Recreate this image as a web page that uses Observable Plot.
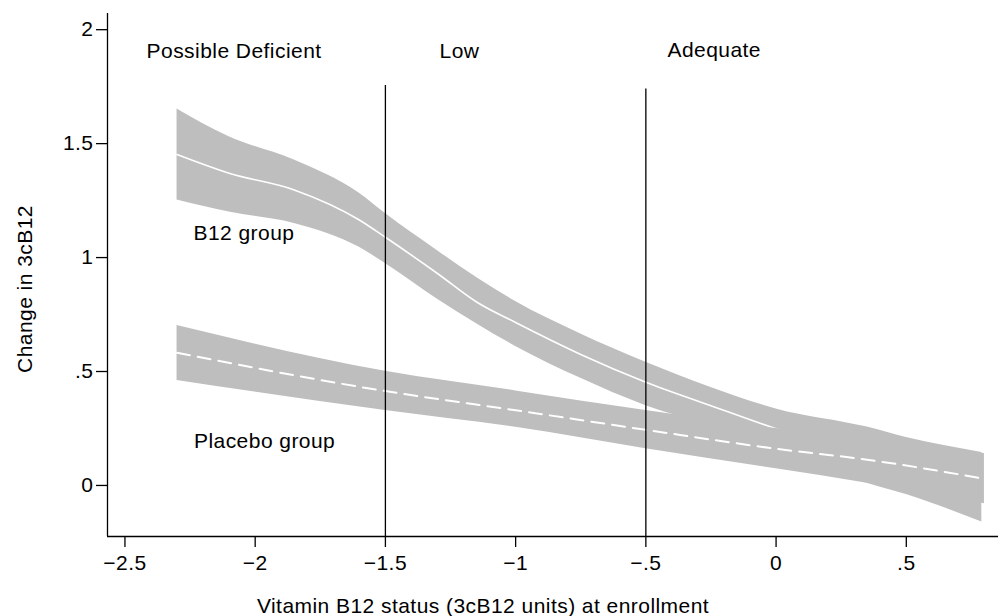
<!DOCTYPE html>
<html>
<head>
<meta charset="utf-8">
<script src="https://cdn.jsdelivr.net/npm/d3@7"></script>
<script src="https://cdn.jsdelivr.net/npm/@observablehq/plot@0.6"></script>
<style>
  html, body { margin: 0; padding: 0; background: #ffffff; }
  #chart { width: 1003px; height: 616px; }
</style>
</head>
<body>
<div id="chart"></div>
<script>
// ---- data ----
const xTicks = [-2.5, -2, -1.5, -1, -0.5, 0, 0.5];
const xTickLabels = ["−2.5", "−2", "−1.5", "−1", "−.5", "0", ".5"];
const yTicks = [0, 0.5, 1, 1.5, 2];
const yTickLabels = ["0", ".5", "1", "1.5", "2"];
const xDomain = [-2.567, 0.854];
const yDomain = [-0.224, 2.071];

// B12 group: fitted change and confidence band
const b12X     = [-2.3, -2.1, -1.85, -1.6, -1.5, -1.3, -1.15, -1.0, -0.75, -0.5, -0.25, 0, 0.35, 0.5, 0.79];
const b12Fit   = [1.452, 1.37, 1.297, 1.165, 1.089, 0.93, 0.805, 0.715, 0.575, 0.453, 0.35, 0.249, 0.133, 0.09, -0.01];
const b12Upper = [1.652, 1.53, 1.428, 1.282, 1.193, 1.03, 0.913, 0.807, 0.665, 0.541, 0.43, 0.336, 0.256, 0.21, 0.145];
const b12Lower = [1.253, 1.20, 1.150, 1.045, 0.974, 0.817, 0.71, 0.61, 0.47, 0.35, 0.26, 0.16, 0.01, -0.04, -0.16];

// Placebo group: fitted change and confidence band
const placeboX     = [-2.3, -1.5, -1.0, -0.5, 0, 0.35, 0.8];
const placeboFit   = [0.582, 0.414, 0.33, 0.244, 0.161, 0.113, 0.029];
const placeboUpper = [0.702, 0.501, 0.415, 0.329, 0.25, 0.2, 0.14];
const placeboLower = [0.461, 0.329, 0.255, 0.161, 0.073, 0.01, -0.08];

// Status cut-offs
const cutoffX = [-1.5, -0.5];
const cutoffTop = [1.755, 1.74];

// Annotations
const categoryLabels = ["Possible Deficient", "Low", "Adequate"];
const categoryX = [-2.417, -1.292, -0.417];
const categoryY = [1.875, 1.875, 1.88];
const groupLabels = ["B12 group", "Placebo group"];
const groupX = [-2.237, -2.235];
const groupY = [1.075, 0.165];

const xTitle = "Vitamin B12 status (3cB12 units) at enrollment";
const yTitle = "Change in 3cB12";

// ---- tables ----
const b12 = b12X.map((x, i) => ({x, fit: b12Fit[i], hi: b12Upper[i], lo: b12Lower[i]}));
const placebo = placeboX.map((x, i) => ({x, fit: placeboFit[i], hi: placeboUpper[i], lo: placeboLower[i]}));
const cutoffs = cutoffX.map((x, i) => ({x, top: cutoffTop[i]}));
const categories = categoryLabels.map((t, i) => ({t, x: categoryX[i], y: categoryY[i]}));
const groups = groupLabels.map((t, i) => ({t, x: groupX[i], y: groupY[i]}));

const band = "#bebebe";
const axisW = 1.3;

const chart = Plot.plot({
  width: 1003,
  height: 616,
  marginLeft: 107,
  marginRight: 5,
  marginTop: 13,
  marginBottom: 80,
  x: {domain: xDomain},
  y: {domain: yDomain},
  style: {
    fontFamily: "'Liberation Sans', Arial, Helvetica, sans-serif",
    fontSize: "21px",
    letterSpacing: "0.45px",
    color: "black",
    background: "white"
  },
  marks: [
    Plot.areaY(b12, {x: "x", y1: "lo", y2: "hi", fill: band, curve: "monotone-x"}),
    Plot.lineY(b12, {x: "x", y: "fit", stroke: "white", strokeWidth: 1.6, curve: "monotone-x"}),
    Plot.areaY(placebo, {x: "x", y1: "lo", y2: "hi", fill: band, curve: "monotone-x"}),
    Plot.lineY(placebo, {x: "x", y: "fit", stroke: "white", strokeWidth: 2, strokeDasharray: "13,8", curve: "monotone-x"}),
    Plot.ruleX(cutoffs, {x: "x", y1: yDomain[0], y2: "top", stroke: "black", strokeWidth: 1.3}),
    Plot.ruleX([xDomain[0]], {stroke: "black", strokeWidth: axisW}),
    Plot.ruleY([yDomain[0]], {stroke: "black", strokeWidth: axisW}),
    Plot.axisX({
      ticks: xTicks,
      tickFormat: d => xTickLabels[xTicks.indexOf(d)],
      tickSize: 11,
      tickPadding: 8,
      strokeWidth: axisW,
      label: null
    }),
    Plot.axisY({
      ticks: yTicks,
      tickFormat: d => yTickLabels[yTicks.indexOf(d)],
      tickSize: 11,
      tickPadding: 3,
      strokeWidth: axisW,
      label: null
    }),
    Plot.text(categories, {x: "x", y: "y", text: "t", textAnchor: "start", lineAnchor: "bottom", fill: "black"}),
    Plot.text(groups, {x: "x", y: "y", text: "t", textAnchor: "start", lineAnchor: "bottom", fill: "black"}),
    Plot.text([xTitle], {frameAnchor: "bottom", textAnchor: "middle", dx: -70, dy: 76, lineAnchor: "bottom", fill: "black"}),
    Plot.text([yTitle], {frameAnchor: "left", textAnchor: "middle", rotate: -90, dx: -82, dy: 14, lineAnchor: "middle", fill: "black"})
  ]
});

document.getElementById("chart").appendChild(chart);
</script>
</body>
</html>
